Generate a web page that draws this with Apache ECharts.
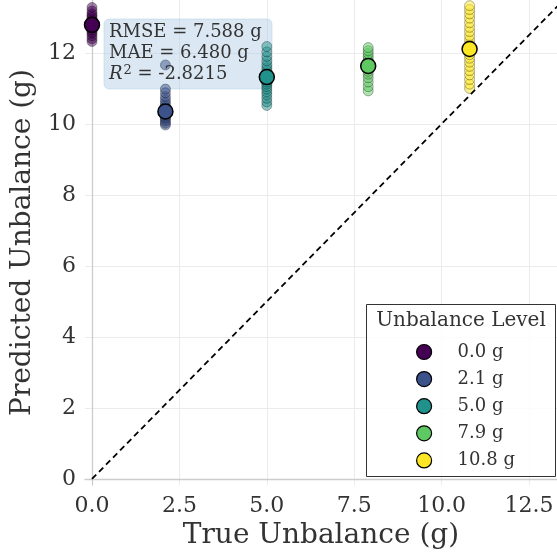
<!DOCTYPE html>
<html>
<head>
<meta charset="utf-8">
<script src="https://cdn.jsdelivr.net/npm/echarts@6/dist/echarts.min.js"></script>
<style>
  html, body { margin: 0; padding: 0; background: #ffffff; }
  #chart { width: 557px; height: 556px; }
</style>
</head>
<body>
<div id="chart"></div>
<script>
// unbalance levels (true values) and legend labels
var levels = [0.0, 2.1, 5.0, 7.9, 10.8];
var levelNames = ["0.0 g", "2.1 g", "5.0 g", "7.9 g", "10.8 g"];
var levelColors = ["#440154", "#3b528b", "#21918c", "#5ec962", "#fde725"];

// predicted values per level
var pred00 = [12.32, 12.4, 12.48, 12.55, 12.6, 12.65, 12.7, 12.74, 12.78, 12.8, 12.83, 12.87, 12.9, 12.95, 13.0, 13.05, 13.1, 13.18, 13.28];
var pred21 = [9.97, 10.02, 10.08, 10.13, 10.18, 10.22, 10.26, 10.3, 10.34, 10.38, 10.42, 10.47, 10.53, 10.6, 10.68, 10.77, 10.88, 10.98, 11.66];
var pred50 = [10.52, 10.62, 10.72, 10.82, 10.9, 10.98, 11.05, 11.12, 11.18, 11.24, 11.3, 11.36, 11.42, 11.5, 11.58, 11.67, 11.78, 11.9, 12.03, 12.18];
var pred79 = [10.93, 11.05, 11.18, 11.3, 11.4, 11.48, 11.55, 11.6, 11.65, 11.7, 11.76, 11.82, 11.9, 11.98, 12.06, 12.15];
var pred108 = [11.0, 11.12, 11.25, 11.38, 11.5, 11.62, 11.74, 11.85, 11.95, 12.05, 12.15, 12.25, 12.36, 12.48, 12.6, 12.72, 12.85, 12.98, 13.1, 13.22, 13.33];
var predAll = [pred00, pred21, pred50, pred79, pred108];

// mean prediction per level
var predMeans = [12.79, 10.35, 11.32, 11.63, 12.11];

// tick labels
var xTicks = [0, 2.5, 5, 7.5, 10, 12.5];
var yTicks = [0, 2, 4, 6, 8, 10, 12];

// identity line end points
var idealLine = [[0, 0], [14, 14]];

var serif = "DejaVu Serif";
var myChart = echarts.init(document.getElementById("chart"));

var series = [];
levels.forEach(function (lv, i) {
  series.push({
    name: levelNames[i],
    type: "scatter",
    symbol: "circle",
    symbolSize: 10,
    data: predAll[i].map(function (p) { return [lv, p]; }),
    itemStyle: {
      color: levelColors[i],
      opacity: 0.5,
      borderColor: "#000",
      borderWidth: 0.6
    },
    emphasis: { disabled: true },
    z: 3
  });
});
levels.forEach(function (lv, i) {
  series.push({
    name: levelNames[i],
    type: "scatter",
    symbol: "circle",
    symbolSize: 15,
    data: [[lv, predMeans[i]]],
    itemStyle: {
      color: levelColors[i],
      opacity: 1,
      borderColor: "#000",
      borderWidth: 1.5
    },
    emphasis: { disabled: true },
    z: 5
  });
});
series.push({
  type: "line",
  data: idealLine,
  symbol: "none",
  silent: true,
  lineStyle: { color: "#000", width: 1.8, type: [6, 4] },
  z: 4
});

var option = {
  animation: false,
  backgroundColor: "#ffffff",
  grid: { left: 85, right: 0, top: 0, bottom: 71, containLabel: false },
  xAxis: {
    type: "value",
    min: -0.2,
    max: 13.3,
    name: "True Unbalance (g)",
    nameLocation: "middle",
    nameGap: 33,
    nameTextStyle: { fontFamily: serif, fontSize: 28, color: "#333" },
    axisLine: { show: true, lineStyle: { color: "#cccccc", width: 1.3 } },
    axisTick: { show: false, customValues: xTicks },
    axisLabel: {
      customValues: xTicks,
      formatter: function (v) { return v.toFixed(1); },
      fontFamily: serif, fontSize: 22, color: "#333", margin: 10
    },
    splitLine: { show: true, lineStyle: { color: "#ebebeb", width: 1 } }
  },
  yAxis: {
    type: "value",
    min: -0.17,
    max: 13.49,
    name: "Predicted Unbalance (g)",
    nameLocation: "middle",
    nameGap: 48,
    nameTextStyle: { fontFamily: serif, fontSize: 28, color: "#333" },
    axisLine: { show: true, lineStyle: { color: "#cccccc", width: 1.3 } },
    axisTick: { show: false, customValues: yTicks },
    axisLabel: {
      customValues: yTicks,
      formatter: function (v) { return String(Math.round(v)); },
      fontFamily: serif, fontSize: 22, color: "#333", margin: 9
    },
    splitLine: { show: true, lineStyle: { color: "#ebebeb", width: 1 } }
  },
  legend: {
    orient: "vertical",
    left: 411,
    top: 338,
    z: 20,
    itemWidth: 15,
    itemHeight: 15,
    itemGap: 9.1,
    selectedMode: false,
    icon: "circle",
    data: levelNames.map(function (n, i) {
      return {
        name: n,
        icon: "circle",
        itemStyle: { color: levelColors[i], opacity: 1, borderColor: "#000", borderWidth: 1.2 }
      };
    }),
    textStyle: { fontFamily: serif, fontSize: 18, color: "#333", padding: [0, 0, 0, 21] }
  },
  graphic: [
    {
      type: "rect",
      shape: { x: 366.5, y: 304.5, width: 189, height: 172 },
      style: { fill: "rgba(255,255,255,0.85)", stroke: "#333", lineWidth: 1 },
      z: 10
    },
    {
      type: "text",
      x: 461, y: 321,
      style: {
        text: "Unbalance Level", fontFamily: serif, fontSize: 20, fill: "#333",
        align: "center", verticalAlign: "middle"
      },
      z: 11
    },
    {
      type: "rect",
      shape: { x: 104, y: 19, width: 168, height: 70, r: 5 },
      style: { fill: "rgba(176,204,229,0.45)", stroke: "rgba(176,204,229,0.45)", lineWidth: 1 },
      z: 1
    },
    {
      type: "text",
      x: 109, y: 22,
      style: {
        text: "RMSE = 7.588 g\nMAE = 6.480 g\n{i|R}{s|2} = -2.8215",
        fontFamily: serif, fontSize: 18, fill: "#333", lineHeight: 21,
        rich: {
          i: { fontStyle: "italic", fontFamily: serif, fontSize: 18, fill: "#333" },
          s: { fontFamily: serif, fontSize: 13, fill: "#333", verticalAlign: "top", padding: [0, 0, 6, 1] }
        }
      },
      z: 11
    }
  ],
  series: series
};

option && myChart.setOption(option);
</script>
</body>
</html>
